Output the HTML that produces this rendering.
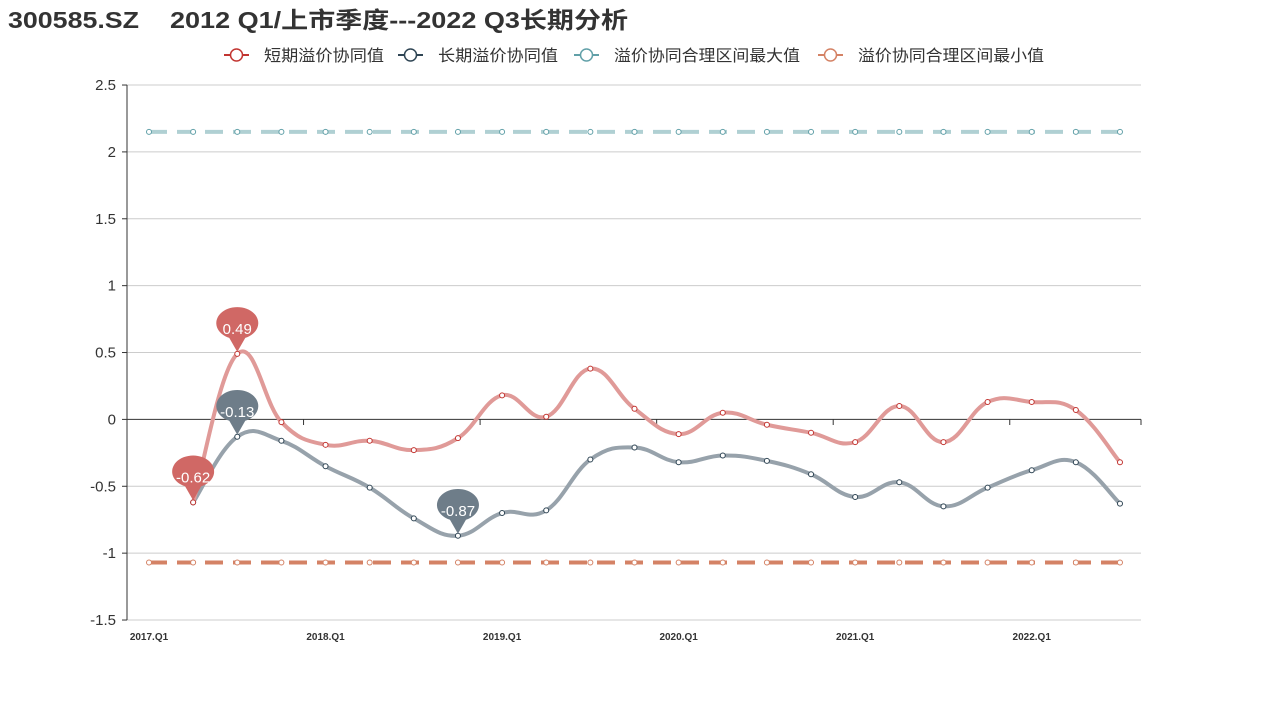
<!DOCTYPE html>
<html><head><meta charset="utf-8"><style>
body{margin:0;background:#fff;width:1269px;height:705px;overflow:hidden;font-family:"Liberation Sans","Noto Sans CJK SC",sans-serif}
</style></head><body>
<svg id="s" width="1269" height="705" xmlns="http://www.w3.org/2000/svg" font-family="Liberation Sans, Noto Sans CJK SC, sans-serif"></svg>
<script>
const s=document.getElementById('s');let h='';
const Y=v=>419.4-v*133.75, X=i=>149+i*44.136;
h+='<text x="8" y="28" font-size="23" font-weight="bold" fill="#333" textLength="131" lengthAdjust="spacingAndGlyphs">300585.SZ</text>';
h+='<text x="170" y="28" font-size="23" font-weight="bold" fill="#333" textLength="458" lengthAdjust="spacingAndGlyphs">2012 Q1/上市季度---2022 Q3长期分析</text>';
// legend
const leg=[[224,'#c23531','短期溢价协同值',120],[398,'#2f4554','长期溢价协同值',120],[574,'#61a0a8','溢价协同合理区间最大值',186],[818,'#d48265','溢价协同合理区间最小值',186]];
leg.forEach(([x,c,t,w])=>{h+=`<line x1="${x}" y1="55" x2="${x+25}" y2="55" stroke="${c}" stroke-width="2"/><circle cx="${x+12.5}" cy="55" r="6" fill="#fff" stroke="${c}" stroke-width="1.5"/><text x="${x+40}" y="61" font-size="16" fill="#333" textLength="${w}" lengthAdjust="spacingAndGlyphs">${t}</text>`});
// grid
[2.5,2,1.5,1,0.5,-0.5,-1,-1.5].forEach(v=>{h+=`<line x1="127" x2="1141" y1="${Y(v)}" y2="${Y(v)}" stroke="#ccc"/>`});
[2.5,2,1.5,1,0.5,0,-0.5,-1,-1.5].forEach(v=>{h+=`<text x="116" y="${Y(v)+5}" font-size="15" text-anchor="end" fill="#333">${v}</text><line x1="122" x2="127" y1="${Y(v)}" y2="${Y(v)}" stroke="#333"/>`});
h+=`<line x1="127" x2="127" y1="85" y2="620" stroke="#333"/><line x1="127" x2="1141" y1="419.4" y2="419.4" stroke="#333"/>`;
for(let k=0;k<=5;k++){const x=127+k*176.55;h+=`<line x1="${x}" x2="${x}" y1="419.4" y2="425" stroke="#333"/>`}
h+=`<line x1="1141" x2="1141" y1="419.4" y2="425" stroke="#333"/>`;
['2017.Q1','2018.Q1','2019.Q1','2020.Q1','2021.Q1','2022.Q1'].forEach((t,k)=>{h+=`<text x="${X(k*4)}" y="640" font-size="10" font-weight="bold" text-anchor="middle" fill="#333">${t}</text>`});
function path(pts){let d=`M${pts[0][0]},${pts[0][1]}`;for(let i=0;i<pts.length-1;i++){const p0=pts[i-1]||pts[i],p1=pts[i],p2=pts[i+1],p3=pts[i+2]||p2,t=0.2;d+=` C${p1[0]+(p2[0]-p0[0])*t},${p1[1]+(p2[1]-p0[1])*t} ${p2[0]-(p3[0]-p1[0])*t},${p2[1]-(p3[1]-p1[1])*t} ${p2[0]},${p2[1]}`}return d}
const red=[-0.62,0.49,-0.02,-0.19,-0.16,-0.23,-0.14,0.18,0.02,0.38,0.08,-0.11,0.05,-0.04,-0.10,-0.17,0.10,-0.17,0.13,0.13,0.07,-0.32];
const dk=[-0.62,-0.13,-0.16,-0.35,-0.51,-0.74,-0.87,-0.70,-0.68,-0.30,-0.21,-0.32,-0.27,-0.31,-0.41,-0.58,-0.47,-0.65,-0.51,-0.38,-0.32,-0.63];
function flat(v,c,lc){let p=[];for(let i=0;i<23;i++)p.push([X(i),Y(v)]);h+=`<line x1="${X(0)}" x2="${X(22)}" y1="${Y(v)}" y2="${Y(v)}" stroke="${lc}" stroke-width="4" stroke-dasharray="18,10"/>`;p.forEach(q=>h+=`<circle cx="${q[0]}" cy="${q[1]}" r="2.5" fill="#fff" stroke="${c}"/>`)}
flat(2.15,'#61a0a8','#b0d0d3');flat(-1.07,'#d48265','#d48265');
function ser(a,c,lc){const p=a.map((v,i)=>[X(i+1),Y(v)]);h+=`<path d="${path(p)}" fill="none" stroke="${lc}" stroke-width="4"/>`;p.forEach(q=>h+=`<circle cx="${q[0]}" cy="${q[1]}" r="2.5" fill="#fff" stroke="${c}"/>`)}
ser(dk,'#2f4554','#97a2ab');ser(red,'#c23531','#e09a98');
function pin(x,y,t,c){h+=`<path d="M${x},${y} L${x-8},${y-14} A21,16 0 1 1 ${x+8},${y-14} Z" fill="${c}"/><text x="${x}" y="${y-18}" font-size="15" text-anchor="middle" fill="#fff">${t}</text>`}
pin(X(1),Y(-0.62)-2,'-0.62','#d06865');pin(X(2),Y(0.49)-2,'0.49','#d06865');pin(X(2),Y(-0.13)-2,'-0.13','#6e7d89');pin(X(7),Y(-0.87)-2,'-0.87','#6e7d89');
s.innerHTML=h;
</script>
</body></html>
